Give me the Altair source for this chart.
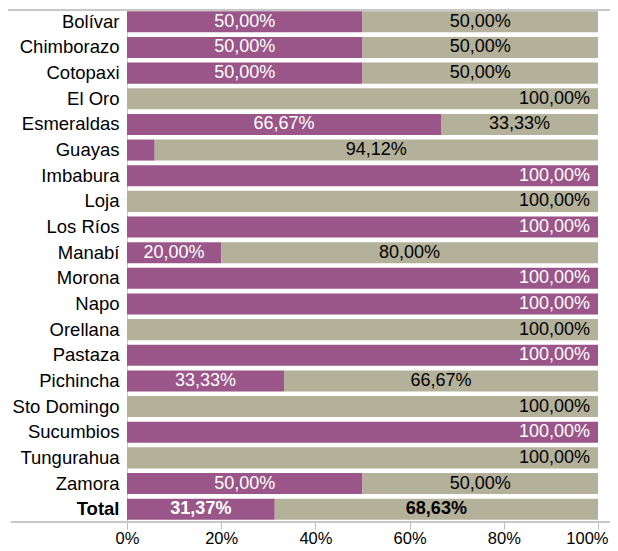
import altair as alt
import pandas as pd

provincias = ["Bolívar", "Chimborazo", "Cotopaxi", "El Oro", "Esmeraldas", "Guayas",
              "Imbabura", "Loja", "Los Ríos", "Manabí", "Morona", "Napo", "Orellana",
              "Pastaza", "Pichincha", "Sto Domingo", "Sucumbios", "Tungurahua", "Zamora", "Total"]
pct_a = [50, 50, 50, 0, 66.67, 5.88, 100, 0, 100, 20, 100, 100, 0, 100, 33.33, 0, 100, 0, 50, 31.37]
pct_b = [50, 50, 50, 100, 33.33, 94.12, 0, 100, 0, 80, 0, 0, 100, 0, 66.67, 100, 0, 100, 50, 68.63]
tick_values = [0, 20, 40, 60, 80, 100]

PURPLE = "#9a5689"
TAN = "#b3b19a"

rows = []
for p, a, b in zip(provincias, pct_a, pct_b):
    if a > 0:
        rows.append({"prov": p, "serie": "a", "pct": a, "x0": 0, "x1": a})
    if b > 0:
        rows.append({"prov": p, "serie": "b", "pct": b, "x0": a, "x1": a + b})
df = pd.DataFrame(rows)
df["mid"] = (df["x0"] + df["x1"]) / 2
df["label"] = df["pct"].map(lambda v: f"{v:.2f}".replace(".", ",") + "%")
df["full"] = df["pct"] >= 99.99
df["show"] = df["pct"] >= 10
df["tot"] = df["prov"] == "Total"

FONT = "Liberation Sans"

y_enc = alt.Y(
    "prov:N", sort=provincias, title=None,
    scale=alt.Scale(paddingInner=0.18, paddingOuter=0.09),
    axis=alt.Axis(ticks=False, domain=True, domainColor="#cccccc", labelFontSize=18.5,
                  labelFont=FONT, labelColor="#000000", labelPadding=8,
                  labelFontWeight={"condition": {"test": "datum.value == 'Total'", "value": "bold"},
                                   "value": "normal"}),
)

base = alt.Chart(df)

bars = base.mark_bar().encode(
    y=y_enc,
    x=alt.X("x0:Q", title=None, scale=alt.Scale(domain=[0, 100], nice=False),
            axis=alt.Axis(values=tick_values, labelExpr="datum.value + '%'", grid=False,
                          domain=False, tickColor="#bbbbbb", tickSize=7, labelFontSize=16.5,
                          labelFont=FONT, labelColor="#000000", labelPadding=1,
                          labelAlign={"condition": {"test": "datum.value == 100", "value": "right"},
                                      "value": "center"},
                          labelOffset={"condition": {"test": "datum.value == 100", "value": 10},
                                       "value": 0})),
    x2="x1:Q",
    color=alt.Color("serie:N", scale=alt.Scale(domain=["a", "b"], range=[PURPLE, TAN]), legend=None),
)

txt_color = alt.condition(alt.datum.serie == "a", alt.value("white"), alt.value("black"))


def text_layer(filt, weight, align, xfield, dx):
    return base.transform_filter(filt).mark_text(
        fontSize=18, font=FONT, baseline="middle", align=align, dx=dx, fontWeight=weight
    ).encode(
        y=alt.Y("prov:N", sort=provincias),
        x=alt.X(f"{xfield}:Q"),
        text="label:N",
        color=txt_color,
    )


labels_mid = text_layer("datum.show && !datum.full && !datum.tot", "normal", "center", "mid", 0)
labels_tot = text_layer("datum.show && !datum.full && datum.tot", "bold", "center", "mid", 0)
labels_full = text_layer("datum.full", "normal", "right", "x1", -8)

line_df = pd.DataFrame({"k": [0]})
top_line = alt.Chart(line_df).mark_rule(color="#c8c8c8", strokeWidth=2).encode(
    x=alt.value(-119), x2=alt.value(483), y=alt.value(1)
)
bottom_line = alt.Chart(line_df).mark_rule(color="#c8c8c8", strokeWidth=2).encode(
    x=alt.value(-116), x2=alt.value(483), y=alt.value(513)
)

chart = alt.layer(bars, labels_mid, labels_tot, labels_full, top_line, bottom_line).properties(
    width=471, height=513,
    padding={"left": 119, "top": 1, "right": 12, "bottom": 28},
    autosize="none",
).configure_view(stroke=None)

chart.save("out.html", embed_options={"renderer": "svg", "actions": False})
